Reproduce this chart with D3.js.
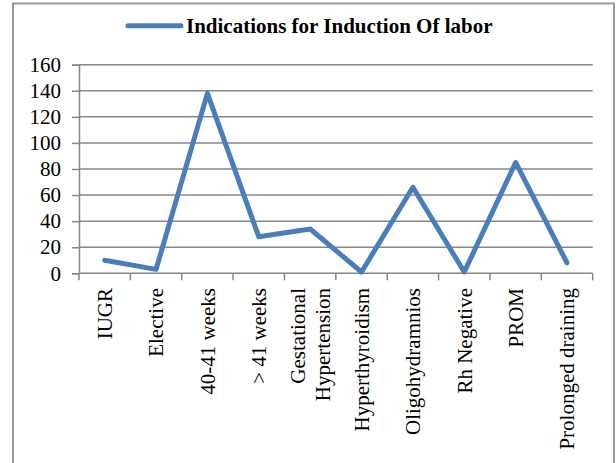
<!DOCTYPE html>
<html>
<head>
<meta charset="utf-8">
<script src="https://cdn.jsdelivr.net/npm/d3@7"></script>
<style>
  body { margin: 0; background: #fff; }
  svg { display: block; }
  text { font-family: "Liberation Serif", "Times New Roman", serif; fill: #000; }
</style>
</head>
<body>
<script>
// chart data
var categories = ["IUGR", "Elective", "40-41 weeks", "> 41 weeks", "Gestational Hypertension",
                  "Hyperthyroidism", "Oligohydramnios", "Rh Negative", "PROM", "Prolonged draining"];
var counts = [10, 3, 138, 28, 34, 1, 66, 1, 85, 8];
var yTicks = [0, 20, 40, 60, 80, 100, 120, 140, 160];
var seriesName = "Indications for Induction Of labor";

var W = 616, H = 463;
var plot = {left: 79, right: 592.7, top: 64.7, bottom: 273.3};
var lineColor = "#4a7ebb";
var gridColor = "#868686";
var fontSize = "21px";

var svg = d3.select("body").append("svg")
            .attr("width", W)
            .attr("height", H);

// outer chart border (bottom edge is cut off in the picture)
svg.append("path")
   .attr("d", "M13," + (H + 5) + "V3.5H614V" + (H + 5))
   .attr("fill", "none")
   .attr("stroke", "#989898")
   .attr("stroke-width", 2);

// scales
var xScale = d3.scaleBand()
               .domain(categories)
               .range([plot.left, plot.right])
               .padding(0);

var yScale = d3.scaleLinear()
               .domain([0, 160])
               .range([plot.bottom, plot.top]);

// horizontal gridlines
svg.append("g")
   .selectAll("line")
   .data(yTicks.filter(function(d) { return d > 0; }))
   .enter()
   .append("line")
   .attr("x1", plot.left)
   .attr("x2", plot.right)
   .attr("y1", function(d) { return yScale(d); })
   .attr("y2", function(d) { return yScale(d); })
   .attr("stroke", gridColor)
   .attr("stroke-width", 1.5);

// y axis
var yAxis = svg.append("g")
   .attr("transform", "translate(" + plot.left + ",0)")
   .call(d3.axisLeft(yScale).tickValues(yTicks).tickSize(7).tickPadding(11));
yAxis.select(".domain").attr("stroke", gridColor).attr("stroke-width", 1.5);
yAxis.selectAll(".tick line").attr("stroke", gridColor).attr("stroke-width", 1.5);
yAxis.selectAll(".tick text")
     .style("font-family", "Liberation Serif")
     .style("font-size", fontSize)
     .attr("fill", "#000");

// x axis (ticks at band boundaries)
var xAxis = svg.append("g")
   .attr("transform", "translate(0," + plot.bottom + ")");
xAxis.append("line")
     .attr("x1", plot.left)
     .attr("x2", plot.right)
     .attr("stroke", gridColor)
     .attr("stroke-width", 1.5);
var bounds = categories.map(function(c) { return xScale(c); }).concat([plot.right]);
xAxis.selectAll(".xtick")
     .data(bounds)
     .enter()
     .append("line")
     .attr("class", "xtick")
     .attr("x1", function(d) { return d; })
     .attr("x2", function(d) { return d; })
     .attr("y1", 0)
     .attr("y2", 7)
     .attr("stroke", gridColor)
     .attr("stroke-width", 1.5);

// rotated category labels, wrapped when too long
var maxLen = 172;
var labels = svg.append("g")
   .selectAll("text")
   .data(categories)
   .enter()
   .append("text")
   .style("font-size", fontSize)
   .attr("text-anchor", "end")
   .attr("transform", function(d) {
       return "translate(" + (xScale(d) + xScale.bandwidth() / 2) + ",288) rotate(-90)";
   });

labels.each(function(d) {
    var t = d3.select(this);
    t.text(d);
    if (this.getComputedTextLength() <= maxLen) {
        t.text(null);
        t.append("tspan").attr("x", 0).attr("dy", "0.35em").text(d);
        return;
    }
    t.text(null);
    var words = d.split(" ");
    var lineH = 25;
    var n = words.length;
    words.forEach(function(w, i) {
        t.append("tspan")
         .attr("x", 0)
         .attr("y", (i - (n - 1) / 2) * lineH)
         .attr("dy", "0.35em")
         .text(w);
    });
});

// the line
var line = d3.line()
             .x(function(d, i) { return xScale(categories[i]) + xScale.bandwidth() / 2; })
             .y(function(d) { return yScale(d); });

svg.append("path")
   .datum(counts)
   .attr("d", line)
   .attr("fill", "none")
   .attr("stroke", lineColor)
   .attr("stroke-width", 5)
   .attr("stroke-linejoin", "round")
   .attr("stroke-linecap", "round");

// legend / title
var legend = svg.append("g");
legend.append("line")
      .attr("x1", 128)
      .attr("x2", 181)
      .attr("y1", 25.7)
      .attr("y2", 25.7)
      .attr("stroke", lineColor)
      .attr("stroke-width", 5)
      .attr("stroke-linecap", "round");
legend.append("text")
      .attr("x", 186)
      .attr("y", 33)
      .style("font-size", fontSize)
      .style("font-weight", "bold")
      .text(seriesName);
</script>
</body>
</html>
